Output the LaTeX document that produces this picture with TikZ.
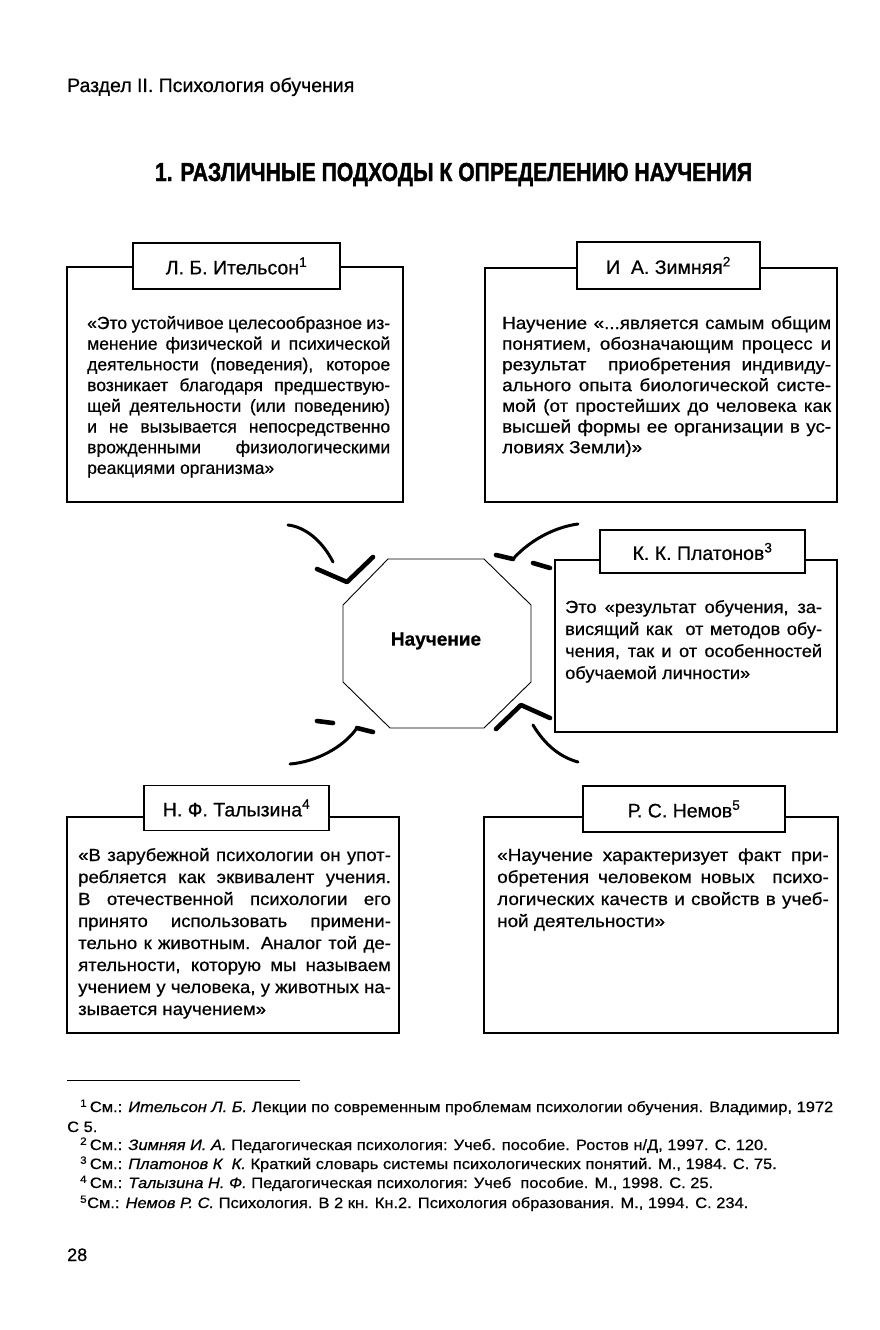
\documentclass[tikz,border=0pt]{standalone}
\usepackage{fontspec}
\setmainfont{Liberation Sans}
\newfontfamily\bodyfam[FakeBold=0.6]{Liberation Sans}
\newfontfamily\titlefam[BoldFeatures={FakeBold=1.6}]{Liberation Sans}
\usepackage{graphicx}
\newlength\fnw
\newcommand\jline[1]{\makebox[\linewidth][s]{#1}}
\newcommand\bodyfont{\bodyfam\fontsize{17.5}{20.7}\selectfont}
\newcommand\bodyfontw{\bodyfam\fontsize{17.5}{22}\selectfont}
\newcommand\labfont{\bodyfam\fontsize{19.5}{22}\selectfont}
\newcommand\fnfont{\bodyfam\fontsize{15}{18}\selectfont}
\newcommand\fnone{\textsuperscript{1}\,См.: \textit{Ительсон Л. Б.} Лекции по современным проблемам психологии обучения. Владимир, 1972}
\begin{document}
\settowidth{\fnw}{\fnfont\fnone}%
\pgfmathsetmacro{\fns}{753/(\fnw+0.001pt)}%
\begin{tikzpicture}[x=1pt,y=-1pt,
  frame/.style={draw, line width=1.4pt, inner sep=0pt},
  labelbox/.style={draw, line width=1.4pt, fill=white, inner sep=0pt, font=\labfont},
  txt/.style={anchor=base west, inner sep=0pt},
  brush/.style={line width=4.6pt, line cap=round, line join=round},
  thinbrush/.style={line width=3pt, line cap=round, line join=round}]
\fill[white] (0,0) rectangle (880,1330);
\useasboundingbox (0,0) rectangle (880,1330);

% header and title
\node[txt] (hdr) at (67,92) {\bodyfam\fontsize{19.5}{22}\selectfont Раздел II. Психология обучения};
\node[anchor=base, inner sep=0pt] (title) at (453.5,181)
  {\resizebox{597pt}{\height}{\titlefam\fontsize{26}{30}\selectfont\bfseries 1. РАЗЛИЧНЫЕ ПОДХОДЫ К ОПРЕДЕЛЕНИЮ НАУЧЕНИЯ}};

% box 1
\node[frame, minimum width=336pt, minimum height=235pt] (f1) at (235,384.5) {};
\node[labelbox, minimum width=207pt, minimum height=46pt] (l1) at (236.5,266) {Л. Б. Ительсон\textsuperscript{1}};
\node[txt] (t1) at (87,329) {\parbox[t]{303pt}{\bodyfont
\jline{«Это устойчивое целесообразное из-}\\
\jline{менение физической и психической}\\
\jline{деятельности (поведения), которое}\\
\jline{возникает благодаря предшествую-}\\
\jline{щей деятельности (или поведению)}\\
\jline{и не вызывается непосредственно}\\
\jline{врожденными физиологическими}\\
реакциями организма»}};

% box 2
\node[frame, minimum width=352pt, minimum height=234pt] (f2) at (661,385) {};
\node[labelbox, minimum width=183pt, minimum height=47pt] (l2) at (668.5,265.5) {И\ \ А. Зимняя\textsuperscript{2}};
\node[txt] (t2) at (502,329) {\scalebox{1.075}[1]{\parbox[t]{306pt}{\bodyfont
\jline{Научение «...является самым общим}\\
\jline{понятием, обозначающим процесс и}\\
\jline{результат\ \ приобретения индивиду-}\\
\jline{ального опыта биологической систе-}\\
\jline{мой (от простейших до человека как}\\
\jline{высшей формы ее организации в ус-}\\
ловиях Земли)»}}};

% Platonov
\node[frame, minimum width=282pt, minimum height=172pt] (f3) at (696,646) {};
\node[labelbox, minimum width=205pt, minimum height=43pt] (l3) at (702.5,551.5) {К. К. Платонов\textsuperscript{3}};
\node[txt] (t3) at (565,613) {\scalebox{1.04}[1]{\parbox[t]{247pt}{\bodyfontw
\jline{Это «результат обучения, за-}\\
\jline{висящий как\ \ от методов обу-}\\
\jline{чения, так и от особенностей}\\
обучаемой личности»}}};

% box 4
\node[frame, minimum width=332pt, minimum height=216pt] (f4) at (233,925) {};
\node[labelbox, minimum width=185pt, minimum height=45pt] (l4) at (236.5,808) {Н. Ф. Талызина\textsuperscript{4}};
\node[txt] (t4) at (78,861) {\scalebox{1.06}[1]{\parbox[t]{295pt}{\bodyfontw
\jline{«В зарубежной психологии он упот-}\\
\jline{ребляется как эквивалент учения.}\\
\jline{В отечественной психологии его}\\
\jline{принято использовать примени-}\\
\jline{тельно к животным. Аналог той де-}\\
\jline{ятельности, которую мы называем}\\
\jline{учением у человека, у животных на-}\\
зывается научением»}}};

% box 5
\node[frame, minimum width=354pt, minimum height=216pt] (f5) at (661,925) {};
\node[labelbox, minimum width=202pt, minimum height=46pt] (l5) at (684,809) {Р. С. Немов\textsuperscript{5}};
\node[txt] (t5) at (497,861) {\scalebox{1.08}[1]{\parbox[t]{307pt}{\bodyfontw
\jline{«Научение характеризует факт при-}\\
\jline{обретения человеком новых\ \ психо-}\\
\jline{логических качеств и свойств в учеб-}\\
ной деятельности»}}};

% octagon
\coordinate (o1) at (388,559);
\coordinate (o2) at (484,559);
\coordinate (o3) at (531,605);
\coordinate (o4) at (531,682);
\coordinate (o5) at (484,728);
\coordinate (o6) at (390,728);
\coordinate (o7) at (343,682);
\coordinate (o8) at (343,605);
\draw[line width=0.9pt, line join=miter] (o1) -- (o2) -- (o3) -- (o4) -- (o5) -- (o6) -- (o7) -- (o8) -- cycle;
\node[inner sep=0pt] (oct) at (436,641) {\bodyfam\fontsize{19}{22}\selectfont\bfseries Научение};

% arrows (hand-drawn strokes)
\draw[thinbrush] (288,525) .. controls (306,527) and (323,542) .. (333,562);
\draw[brush] (317,569) -- (347,582) -- (373,557);
\draw[thinbrush] (578,524) .. controls (555,527) and (530,540) .. (513,559);
\draw[brush] (496,555) -- (513,559);
\draw[brush] (533,563) -- (550,568);
\draw[thinbrush] (290,764) .. controls (315,762) and (343,748) .. (357,728);
\draw[brush] (357,728) -- (373,732);
\draw[brush] (317,721) -- (333,723);
\draw[brush] (496,729) -- (521,705) -- (550,718);
\draw[thinbrush] (533,725) .. controls (545,745) and (560,757) .. (578,762);

% footnotes
\draw[line width=1pt] (67,1080) coordinate (r1) -- (300,1080) coordinate (r2);
\node[txt] (fn1) at (80,1112) {\scalebox{\fns}[1]{\fnfont\fnone}};
\node[txt] (fn1b) at (67,1132) {\scalebox{\fns}[1]{\fnfont С 5.}};
\node[txt] (fn2) at (80,1150) {\scalebox{\fns}[1]{\fnfont\textsuperscript{2}\,См.: \textit{Зимняя И. А.} Педагогическая психология: Учеб. пособие. Ростов н/Д, 1997. С. 120.}};
\node[txt] (fn3) at (80,1169) {\scalebox{\fns}[1]{\fnfont\textsuperscript{3}\,См.: \textit{Платонов К\ \ К.} Краткий словарь системы психологических понятий. М., 1984. С. 75.}};
\node[txt] (fn4) at (80,1188) {\scalebox{\fns}[1]{\fnfont\textsuperscript{4}\,См.: \textit{Талызина Н. Ф.} Педагогическая психология: Учеб\ \ пособие. М., 1998. С. 25.}};
\node[txt] (fn5) at (80,1208) {\scalebox{\fns}[1]{\fnfont\textsuperscript{5}См.: \textit{Немов Р. С.} Психология. В 2 кн. Кн.2. Психология образования. М., 1994. С. 234.}};

\node[txt] (pg) at (67,1261) {\bodyfam\fontsize{18}{20}\selectfont 28};
\end{tikzpicture}
\end{document}
